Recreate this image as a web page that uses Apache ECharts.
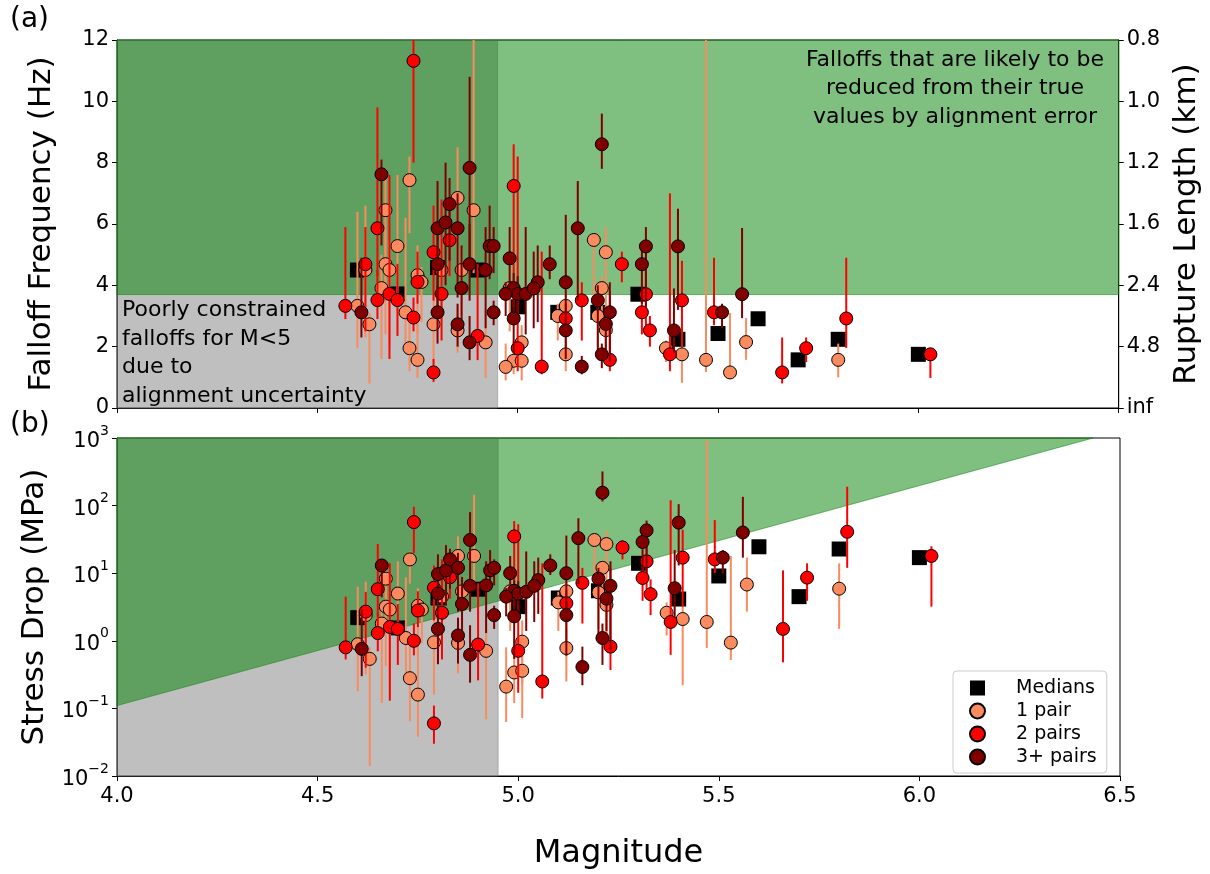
<!DOCTYPE html>
<html>
<head>
<meta charset="utf-8">
<script src="https://cdn.jsdelivr.net/npm/echarts@6/dist/echarts.min.js"></script>
<style>
  html, body { margin: 0; padding: 0; background: #fff; }
  #chart { width: 1210px; height: 874px; }
</style>
</head>
<body>
<div id="chart"></div>
<script>
// each row: [magnitude, value, lower, upper]
const onePairFc = [
  [4.60,3.33,1.95,6.4],[4.62,4.5,2.3,6.6],[4.63,2.73,0.8,3.1],[4.67,6.45,3.5,7.8],
  [4.67,4.69,2.4,5.8],[4.68,4.5,2.0,5.5],[4.66,3.91,1.6,5.0],[4.70,5.28,3.0,7.6],
  [4.72,3.12,2.0,6.2],[4.73,7.43,5.7,8.2],[4.73,1.95,1.2,3.0],[4.75,4.33,2.4,5.3],
  [4.76,4.11,2.8,4.6],[4.75,1.57,0.98,3.0],[4.79,2.73,1.5,3.6],[4.81,4.5,2.8,5.6],
  [4.85,6.85,4.5,8.5],[4.86,4.5,3.0,5.2],[4.85,2.53,1.8,3.3],[4.89,6.45,4.4,13],
  [4.92,2.14,0.98,3.2],[4.98,3.91,2.5,4.8],[5.01,2.14,1.3,2.7],[4.99,1.54,1.1,2.2],
  [5.01,1.54,0.9,2.3],[4.97,1.34,0.9,2.1],[5.19,5.48,3.5,5.7],[5.22,5.08,1.8,5.9],
  [5.21,3.91,2.9,4.3],[5.12,3.33,1.8,3.9],[5.22,2.54,1.6,3.3],[5.12,1.75,1.2,2.2],
  [5.37,1.95,1.5,2.2],[5.41,1.75,0.82,2.0],[5.47,1.57,1.17,12.5],[5.53,1.16,0.95,3.1],
  [5.57,2.15,1.57,2.93],[5.80,1.57,1.0,2.1],[5.20,3.0,2.0,3.6],[5.10,3.0,2.2,3.4]
];
const onePairSd = [
  [4.60,0.89,0.18,6.3],[4.62,2.4,0.32,7.5],[4.63,0.54,0.014,0.8],[4.67,8.3,1.3,15],
  [4.67,3.2,0.42,6.0],[4.68,2.9,0.25,5.3],[4.66,1.8,0.12,3.7],[4.70,5.0,0.92,15],
  [4.72,1.1,0.29,8.7],[4.73,16,7.0,21],[4.73,0.28,0.065,1.0],[4.75,3.3,0.56,6.0],
  [4.76,2.9,0.92,4.1],[4.75,0.16,0.038,1.1],[4.79,0.95,0.16,2.2],[4.81,4.5,1.1,8.7],
  [4.85,18,5.2,35],[4.86,5.4,1.6,8.3],[4.85,0.93,0.33,2.1],[4.89,18,5.6,145],
  [4.92,0.71,0.069,2.4],[4.98,5.4,1.4,9.9],[5.01,0.97,0.22,2.0],[4.99,0.34,0.12,0.99],
  [5.01,0.36,0.072,1.2],[4.97,0.21,0.063,0.8],[5.19,31,7.9,34],[5.22,27,1.2,42],
  [5.21,12,4.8,16],[5.12,5.4,0.85,8.6],[5.22,3.4,0.84,7.4],[5.12,0.78,0.25,1.5],
  [5.37,2.6,1.2,3.7],[5.41,2.1,0.22,3.2],[5.47,1.9,0.78,950],[5.53,0.94,0.52,18],
  [5.57,6.8,2.7,17],[5.80,5.9,1.5,14],[5.20,5.2,1.5,8.9],[5.10,3.7,1.4,5.3]
];
const twoPairFc = [
  [4.57,3.33,2.9,5.9],[4.62,4.69,2.5,5.9],[4.65,5.86,4.3,9.8],[4.65,3.52,2.9,4.5],
  [4.68,3.72,1.6,7.6],[4.70,3.52,2.35,4.7],[4.74,11.32,8.0,13.5],[4.75,4.11,3.4,5.1],
  [4.74,2.95,2.5,3.6],[4.79,1.16,0.85,1.6],[4.79,5.08,3.5,6.6],[4.81,3.72,2.2,6.8],
  [4.83,5.47,4.3,6.8],[4.90,2.35,1.56,4.7],[4.99,7.24,3.3,8.6],[5.00,1.95,1.2,8.2],
  [5.06,1.35,1.1,5.1],[5.16,3.51,2.2,4.1],[5.12,2.92,2.5,3.4],[5.26,4.69,4.1,5.1],
  [5.23,1.57,1.2,3.8],[5.32,3.71,2.7,5.2],[5.31,3.12,2.4,3.8],[5.33,2.53,2.0,3.0],
  [5.41,3.51,2.0,4.8],[5.38,1.75,1.2,7.0],[5.49,3.12,2.7,4.9],[5.66,1.16,0.8,2.3],
  [5.72,1.95,1.5,2.3],[5.82,2.92,1.96,4.9],[6.03,1.75,0.98,1.96]
];
const twoPairSd = [
  [4.57,0.8,0.53,4.5],[4.62,2.7,0.4,5.3],[4.65,5.8,2.3,27],[4.65,1.3,0.7,2.6],
  [4.68,1.6,0.13,14],[4.70,1.5,0.44,3.5],[4.74,57,20,96],[4.75,2.8,1.6,5.4],
  [4.74,1.0,0.61,1.8],[4.79,0.06,0.03,0.11],[4.79,6.1,2.0,13],[4.81,2.6,0.53,16],
  [4.83,8.7,4.2,17],[4.90,0.88,0.26,7.1],[4.99,35,3.3,59],[5.00,0.71,0.17,53],
  [5.06,0.25,0.14,14],[5.16,7.2,1.8,12],[5.12,3.6,2.3,5.7],[5.26,24,16,31],
  [5.23,0.82,0.37,12],[5.32,15,5.7,41],[5.31,8.5,3.9,15],[5.33,4.9,2.4,8.1],
  [5.41,17,3.2,44],[5.38,1.9,0.62,120],[5.49,16,10,61],[5.66,1.5,0.48,11],
  [5.72,8.6,3.9,14],[5.82,41,12,190],[6.03,18,3.2,25]
];
const threePairFc = [
  [4.61,3.12,2.3,4.9],[4.66,7.62,5.3,8.1],[4.80,5.86,3.9,7.4],[4.80,4.69,3.3,6.0],
  [4.80,3.12,2.1,4.0],[4.82,6.05,4.0,8.0],[4.83,6.65,4.8,7.5],[4.85,5.86,3.6,7.0],
  [4.86,3.91,2.7,5.3],[4.85,2.73,2.0,3.4],[4.88,7.83,4.6,10.8],[4.88,4.69,3.5,6.0],
  [4.88,2.14,1.56,3.0],[4.92,4.5,2.6,5.9],[4.93,5.28,4.2,6.6],[4.94,5.28,4.4,5.9],
  [4.94,3.12,2.7,3.5],[4.98,4.88,3.6,5.9],[4.99,3.91,3.2,4.4],[5.00,3.72,2.8,4.3],
  [4.97,3.72,3.0,4.1],[5.02,3.72,2.4,5.9],[4.99,2.92,1.8,3.5],[5.21,8.6,7.8,9.6],
  [5.15,5.86,3.5,7.4],[5.08,4.69,4.2,5.3],[5.05,4.10,2.8,5.3],[5.04,3.90,2.6,5.1],
  [5.12,4.10,2.5,6.3],[5.20,3.51,1.8,4.0],[5.23,3.12,1.5,4.1],[5.22,2.74,1.9,3.2],
  [5.12,2.53,1.6,3.0],[5.21,1.75,1.3,2.1],[5.16,1.35,1.1,1.7],[5.32,5.27,3.3,5.9],
  [5.40,5.27,3.2,6.5],[5.31,4.69,3.4,5.2],[5.51,3.12,2.6,3.4],[5.56,3.71,2.93,5.87],
  [5.39,2.53,1.8,3.9]
];
const threePairSd = [
  [4.61,0.76,0.3,2.9],[4.66,13,4.4,16],[4.80,9.7,2.9,19],[4.80,5.0,1.7,10],
  [4.80,1.5,0.45,3.1],[4.82,11,3.3,26],[4.83,16,5.9,23],[4.85,12,2.7,20],
  [4.86,3.5,1.2,8.8],[4.85,1.2,0.46,2.2],[4.88,31,6.2,80],[4.88,6.5,2.7,14],
  [4.88,0.62,0.24,1.7],[4.92,6.6,1.3,15],[4.93,11,5.6,22],[4.94,12,6.6,16],
  [4.94,2.4,1.5,3.3],[4.98,10,4.2,18],[4.99,5.5,3.0,7.9],[5.00,5.0,2.1,7.6],
  [4.97,4.5,2.3,6.0],[5.02,5.3,1.4,21],[4.99,2.3,0.54,4.0],[5.21,155,115,320],
  [5.15,33,6.9,65],[5.08,13,9.4,19],[5.05,7.9,2.5,17],[5.04,6.5,1.9,15],
  [5.12,10,2.3,36],[5.20,8.3,1.1,12],[5.23,6.5,0.72,15],[5.22,4.2,1.4,6.7],
  [5.12,2.4,0.6,3.9],[5.21,1.1,0.44,1.8],[5.16,0.41,0.22,0.82],[5.32,43,10,60],
  [5.40,56,13,105],[5.31,29,11,39],[5.51,17,9.8,22],[5.56,40,17,135],
  [5.39,6.0,2.2,22]
];
const medianFc = [
  [4.6,4.5],[4.7,3.72],[4.8,4.58],[4.9,4.5],[5.0,3.3],[5.1,3.12],[5.2,3.12],
  [5.3,3.71],[5.4,2.24],[5.5,2.43],[5.6,2.91],[5.7,1.57],[5.8,2.24],[6.0,1.75]
];
const medianSd = [
  [4.6,2.2],[4.7,1.55],[4.8,4.3],[4.9,5.8],[5.0,3.2],[5.1,4.3],[5.2,5.5],
  [5.3,14],[5.4,4.15],[5.5,9.1],[5.6,24.6],[5.7,4.5],[5.8,22.8],[6.0,17]
];

// right-hand tick labels of panel (a), for falloff ticks 0, 2, ..., 12
const ruptureLabels = ['inf', '4.8', '2.4', '1.6', '1.2', '1.0', '0.8'];

// shaded regions, in data units
const grayTop = [[4, 0], [4.95, 0], [4.95, 12], [4, 12]];
const greenTop = [[4, 3.7], [6.5, 3.7], [6.5, 12], [4, 12]];
const grayBottom = [[4, 0.01], [4.95, 0.01], [4.95, 1000], [4, 1000]];
const greenBottom = [[4, 0.11], [6.433, 1000], [4, 1000]];

const FONT = 'DejaVu Sans';
const C_ONE = '#f98b5e', C_TWO = '#ff0000', C_THREE = '#800000';
const GRAY = 'rgba(128,128,128,0.5)', GREEN = 'rgba(0,128,0,0.5)';

const chart = echarts.init(document.getElementById('chart'));

function shadeSeries(xi, yi, regions) {
  return {
    type: 'custom', xAxisIndex: xi, yAxisIndex: yi, silent: true, z: 1,
    data: [[4, 1]],
    renderItem: (params, api) => ({
      type: 'group',
      children: regions.map(([pts, color]) => ({
        type: 'polygon',
        shape: { points: pts.map(p => api.coord(p)) },
        style: { fill: color, stroke: color, lineWidth: 1 },
      })),
    }),
  };
}

function errSeries(rows, color, xi, yi, z) {
  return {
    type: 'custom', xAxisIndex: xi, yAxisIndex: yi, silent: true, z,
    data: rows.map(r => [r[0], r[2], r[3]]),
    renderItem: (params, api) => {
      const cs = params.coordSys;
      const a = api.coord([api.value(0), api.value(1)]);
      const b = api.coord([api.value(0), api.value(2)]);
      const clamp = v => Math.max(cs.y, Math.min(cs.y + cs.height, v));
      return {
        type: 'line',
        shape: { x1: a[0], y1: clamp(a[1]), x2: b[0], y2: clamp(b[1]) },
        style: { stroke: color, lineWidth: 2 },
      };
    },
  };
}

function dotSeries(name, rows, color, xi, yi, z) {
  return {
    type: 'scatter', name, xAxisIndex: xi, yAxisIndex: yi, z,
    data: rows.map(r => [r[0], r[1]]),
    symbol: 'circle', symbolSize: 13,
    itemStyle: { color, borderColor: '#000', borderWidth: 1, opacity: 1 },
    emphasis: { disabled: true },
  };
}

function medianSeries(rows, xi, yi) {
  return {
    type: 'scatter', name: 'Medians', xAxisIndex: xi, yAxisIndex: yi, z: 2,
    data: rows, symbol: 'rect', symbolSize: 15,
    itemStyle: { color: '#000', opacity: 1 },
    emphasis: { disabled: true },
  };
}

const tickLabel = { color: '#000', fontSize: 21, fontFamily: FONT };
const axisLine = { show: true, lineStyle: { color: '#000', width: 1 } };
const axisTick = { show: true, length: 5, lineStyle: { color: '#000' } };
const nameStyle = { color: '#000', fontSize: 31, fontFamily: FONT };

const series = [
  shadeSeries(0, 0, [[grayTop, GRAY], [greenTop, GREEN]]),
  shadeSeries(1, 2, [[grayBottom, GRAY], [greenBottom, GREEN]]),
];
[[0, 0, onePairFc, twoPairFc, threePairFc, medianFc],
 [1, 2, onePairSd, twoPairSd, threePairSd, medianSd]].forEach(([xi, yi, one, two, three, med]) => {
  series.push(medianSeries(med, xi, yi));
  series.push(errSeries(one, C_ONE, xi, yi, 3));
  series.push(dotSeries('1 pair', one, C_ONE, xi, yi, 4));
  series.push(errSeries(two, C_TWO, xi, yi, 5));
  series.push(dotSeries('2 pairs', two, C_TWO, xi, yi, 6));
  series.push(errSeries(three, C_THREE, xi, yi, 7));
  series.push(dotSeries('3+ pairs', three, C_THREE, xi, yi, 8));
});

const txt = (x, y, text, align, size) => ({
  type: 'text', x, y, silent: true, z: 100,
  style: { text, fill: '#000', font: `${size}px "${FONT}"`, textAlign: align, textVerticalAlign: 'middle' },
});

chart.setOption({
  animation: false,
  backgroundColor: '#fff',
  grid: [
    { left: 117, top: 40, width: 1003, height: 368, show: true, borderColor: '#000', borderWidth: 1, backgroundColor: '#fff' },
    { left: 117, top: 438, width: 1003, height: 338, show: true, borderColor: '#000', borderWidth: 1, backgroundColor: '#fff' },
  ],
  xAxis: [
    { gridIndex: 0, type: 'value', min: 4, max: 6.5, interval: 0.5, axisLine, axisTick,
      axisLabel: { show: false }, splitLine: { show: false } },
    { gridIndex: 1, type: 'value', min: 4, max: 6.5, interval: 0.5, axisLine, axisTick,
      axisLabel: { ...tickLabel, margin: 10, formatter: v => v.toFixed(1) }, splitLine: { show: false },
      name: 'Magnitude', nameLocation: 'middle', nameGap: 62, nameTextStyle: { ...nameStyle, fontSize: 32 } },
  ],
  yAxis: [
    { gridIndex: 0, type: 'value', min: 0, max: 12, interval: 2, axisLine, axisTick,
      axisLabel: { ...tickLabel, margin: 8 }, splitLine: { show: false },
      name: 'Falloff Frequency (Hz)', nameLocation: 'middle', nameGap: 60, nameRotate: 90, nameTextStyle: nameStyle },
    { gridIndex: 0, type: 'value', position: 'right', min: 0, max: 12, interval: 2, axisLine, axisTick,
      axisLabel: { ...tickLabel, margin: 8, formatter: v => ruptureLabels[Math.round(v / 2)] },
      splitLine: { show: false },
      name: 'Rupture Length (km)', nameLocation: 'middle', nameGap: 52, nameRotate: 90, nameTextStyle: nameStyle },
    { gridIndex: 1, type: 'log', logBase: 10, min: 0.01, max: 1000, splitNumber: 5, axisLine, axisTick,
      axisLabel: {
        margin: 8,
        formatter: v => {
          const e = Math.round(Math.log10(v));
          return '{b|10}{s|' + (e < 0 ? '\u2212' : '') + Math.abs(e) + '}';
        },
        rich: {
          b: { fontSize: 21, fontFamily: FONT, color: '#000', verticalAlign: 'bottom', lineHeight: 28 },
          s: { fontSize: 14, fontFamily: FONT, color: '#000', verticalAlign: 'top', lineHeight: 15 },
        },
      },
      splitLine: { show: false },
      name: 'Stress Drop (MPa)', nameLocation: 'middle', nameGap: 60, nameRotate: 90, nameTextStyle: nameStyle },
  ],
  legend: {
    orient: 'vertical', left: 953, top: 671,
    data: [
      { name: 'Medians', icon: 'rect' },
      { name: '1 pair', icon: 'circle' },
      { name: '2 pairs', icon: 'circle' },
      { name: '3+ pairs', icon: 'circle' },
    ],
    itemWidth: 15, itemHeight: 15, itemGap: 3,
    textStyle: { color: '#000', fontSize: 19, fontFamily: FONT, lineHeight: 20, padding: [0, 0, 0, 26] },
    backgroundColor: 'rgba(255,255,255,0.8)', borderColor: '#ccc', borderWidth: 1, borderRadius: 4,
    padding: [7, 10, 6, 16],
    selectedMode: false,
  },
  graphic: [
    txt(955, 60, 'Falloffs that are likely to be', 'center', 22),
    txt(955, 88, 'reduced from their true', 'center', 22),
    txt(955, 117, 'values by alignment error', 'center', 22),
    txt(122, 310, 'Poorly constrained', 'left', 22),
    txt(122, 339, 'falloffs for M<5', 'left', 22),
    txt(122, 367, 'due to', 'left', 22),
    txt(122, 396, 'alignment uncertainty', 'left', 22),
    txt(10, 20, '(a)', 'left', 28),
    txt(10, 425, '(b)', 'left', 28),
  ],
  series,
});
</script>
</body>
</html>
